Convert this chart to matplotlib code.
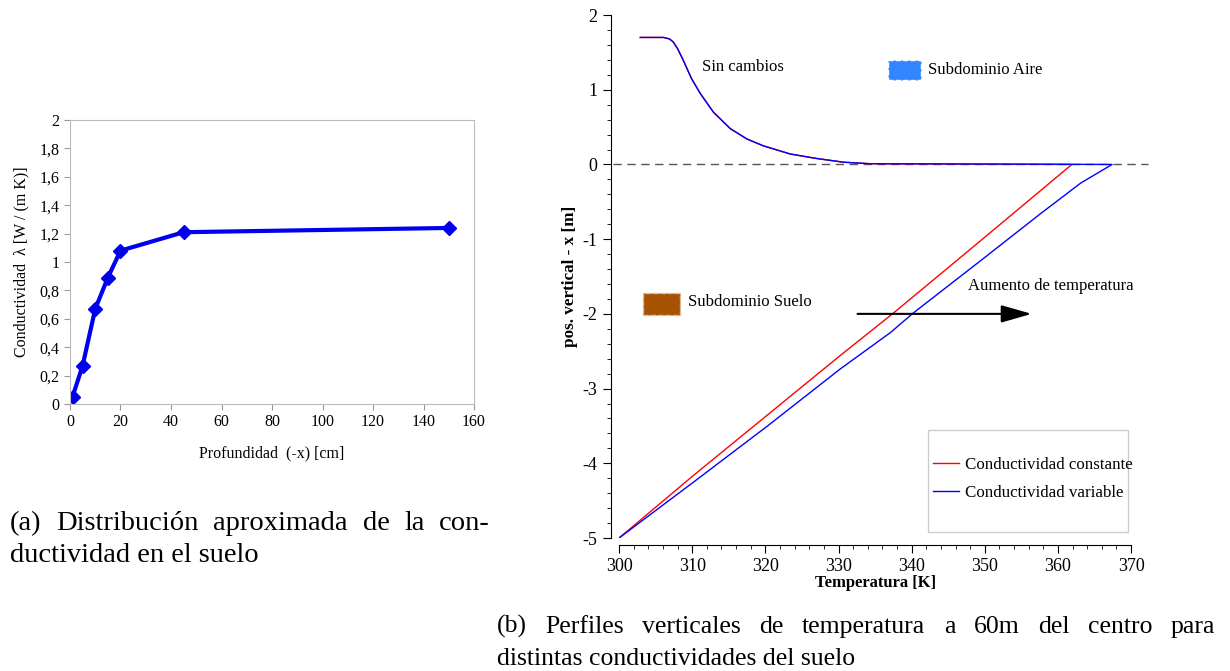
import matplotlib.pyplot as plt
from matplotlib.patches import Rectangle
from matplotlib.ticker import MultipleLocator, FuncFormatter

plt.rcParams['font.family'] = ['Liberation Serif', 'DejaVu Serif']
plt.rcParams['axes.unicode_minus'] = False

# (a) conductividad del suelo
profundidad = [1, 5, 10, 15, 20, 45, 150]
conductividad = [0.05, 0.27, 0.67, 0.89, 1.08, 1.21, 1.24]

# (b) perfiles de temperatura - parte aire (comun a ambos casos)
temp_aire = [302.9, 306.1, 306.9, 307.4, 308.0, 308.8, 309.9, 311.1, 312.9,
             315.2, 317.5, 319.7, 323.4, 327.0, 330.7, 334.3]
pos_aire = [1.70, 1.70, 1.68, 1.64, 1.55, 1.39, 1.15, 0.95, 0.70,
            0.48, 0.34, 0.25, 0.14, 0.08, 0.03, 0.01]

# parte suelo
temp_cte = [361.9, 349.8, 337.5, 330.2, 310.2, 300.0]
pos_cte = [0.0, -0.99, -1.99, -2.56, -4.16, -5.0]
temp_var = [367.4, 363.1, 357.6, 349.4, 340.2, 337.1, 330.2, 320.3, 310.2, 300.0]
pos_var = [0.0, -0.25, -0.66, -1.29, -1.99, -2.25, -2.74, -3.50, -4.25, -5.0]

ANCHO, ALTO = 1230, 671


def coma(v, pos):
    s = f"{v:g}"
    return s.replace('.', ',')


def linea(fig, texto, x0, y, size, x1=None):
    # texto en pixeles (origen arriba a la izquierda); si x1 se justifica
    yf = 1 - y / ALTO
    if x1 is None:
        fig.text(x0 / ANCHO, yf, texto, fontsize=size, va='baseline')
        return
    r = fig.canvas.get_renderer()
    palabras = texto.split()
    objs = [fig.text(0, yf, p, fontsize=size, va='baseline') for p in palabras]
    anchos = [o.get_window_extent(r).width for o in objs]
    hueco = (x1 - x0 - sum(anchos)) / (len(palabras) - 1)
    x = x0
    for o, w in zip(objs, anchos):
        o.set_x(x / ANCHO)
        x += w + hueco


fig = plt.figure(figsize=(12.3, 6.71), dpi=100)

# ---- grafico (a)
ax1 = fig.add_axes([0.0569, 0.3979, 0.3285, 0.4232])
ax1.plot(profundidad, conductividad, color='#0000ee', lw=3, marker='D', ms=7.5)
ax1.set_xlim(0, 160)
ax1.set_ylim(0, 2)
ax1.xaxis.set_major_locator(MultipleLocator(20))
ax1.yaxis.set_major_locator(MultipleLocator(0.2))
ax1.yaxis.set_major_formatter(FuncFormatter(coma))
for s in ax1.spines.values():
    s.set_color('#bbbbbb')
ax1.tick_params(colors='#999999', labelcolor='black', labelsize=11.5, length=4)
ax1.set_xlabel('Profundidad  (-x) [cm]', fontsize=11.5, labelpad=11)
ax1.set_ylabel('Conductividad  λ [W / (m K)]', fontsize=11.5, labelpad=7)

# ---- grafico (b)
ax2 = fig.add_axes([0.5033, 0.1982, 0.4163, 0.7794])
ax2.plot(temp_aire + temp_cte, pos_aire + pos_cte, color='red', lw=1,
         label='Conductividad constante')
ax2.plot(temp_aire + temp_var, pos_aire + pos_var, color='blue', lw=1,
         label='Conductividad variable')
ax2.axhline(0, xmin=-0.012, xmax=1.033, color='#555555', lw=1,
            ls=(0, (6, 4)), clip_on=False, zorder=0)
ax2.set_xlim(300, 370)
ax2.set_ylim(-5, 2)
ax2.xaxis.set_major_locator(MultipleLocator(10))
ax2.xaxis.set_minor_locator(MultipleLocator(2))
ax2.yaxis.set_major_locator(MultipleLocator(1))
ax2.yaxis.set_minor_locator(MultipleLocator(0.2))
ax2.spines['top'].set_visible(False)
ax2.spines['right'].set_visible(False)
ax2.spines['left'].set_position(('outward', 6))
ax2.spines['bottom'].set_position(('outward', 5))
ax2.tick_params(which='major', length=6, labelsize=13)
ax2.tick_params(which='minor', length=3)
ax2.set_xlabel('Temperatura [K]', fontsize=12, fontweight='bold', labelpad=0)
ax2.set_ylabel('pos. vertical - x [m]', fontsize=12.3, fontweight='bold', labelpad=3)

# leyenda con marco propio
ax2.add_patch(Rectangle((0.6035, 0.0115), 0.3905, 0.195, transform=ax2.transAxes,
                        facecolor='white', edgecolor='#cccccc', lw=1, zorder=4))
leg = ax2.legend(loc='center left', bbox_to_anchor=(0.6035, 0.113), fontsize=12.2,
                 frameon=False, borderpad=0.3, handlelength=1.5,
                 handletextpad=0.35, labelspacing=0.75, borderaxespad=0)
leg.set_zorder(5)

# subdominios
ax2.add_patch(Rectangle((0.525, 0.876), 0.064, 0.038, transform=ax2.transAxes,
                        facecolor='#3385ff', edgecolor='white', ls='--', lw=1))
ax2.text(0.604, 0.895, 'Subdominio Aire', transform=ax2.transAxes,
         fontsize=12, va='center')
ax2.add_patch(Rectangle((0.047, 0.426), 0.072, 0.042, transform=ax2.transAxes,
                        facecolor='#a65200', edgecolor='#e0c0a0', ls='--', lw=1))
ax2.text(0.135, 0.451, 'Subdominio Suelo', transform=ax2.transAxes,
         fontsize=12, va='center')

ax2.text(311.3, 1.30, 'Sin cambios', fontsize=12, va='center')
ax2.text(347.7, -1.63, 'Aumento de temperatura', fontsize=12, va='center')
ax2.annotate('', xy=(356.4, -2.0), xytext=(332.6, -2.0),
             arrowprops=dict(arrowstyle='-|>,head_length=0.47,head_width=0.135',
                             mutation_scale=40, color='black', lw=1.5,
                             shrinkA=0, shrinkB=0))

# leyendas de las figuras
linea(fig, '(a) Distribución aproximada de la con-', 10, 530, 20.5, x1=490)
linea(fig, 'ductividad en el suelo', 10, 562, 20.5)
linea(fig, '(b) Perfiles verticales de temperatura a 60m del centro para', 497, 633,
      18.5, x1=1215)
linea(fig, 'distintas conductividades del suelo', 497, 665, 18.5)

fig.savefig('out.png', dpi=100)
